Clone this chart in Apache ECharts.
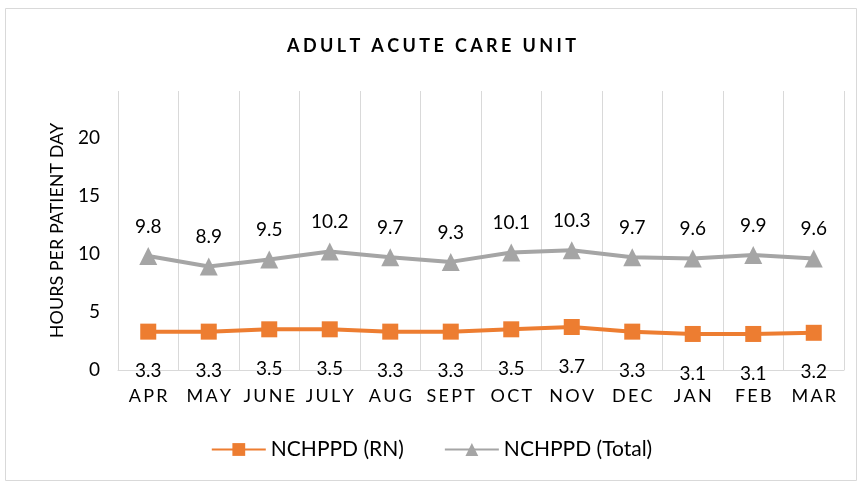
<!DOCTYPE html>
<html>
<head>
<meta charset="utf-8">
<script src="https://cdn.jsdelivr.net/npm/echarts@6/dist/echarts.min.js"></script>
<style>
  html, body { margin: 0; padding: 0; background: #fff; }
  #chart { width: 863px; height: 485px; }
</style>
</head>
<body>
<div id="chart"></div>
<script>
const titleText = 'ADULT ACUTE CARE UNIT'
const months = ['APR', 'MAY', 'JUNE', 'JULY', 'AUG', 'SEPT', 'OCT', 'NOV', 'DEC', 'JAN', 'FEB', 'MAR']
const rnValues = [3.3, 3.3, 3.5, 3.5, 3.3, 3.3, 3.5, 3.7, 3.3, 3.1, 3.1, 3.2]
const totalValues = [9.8, 8.9, 9.5, 10.2, 9.7, 9.3, 10.1, 10.3, 9.7, 9.6, 9.9, 9.6]
const yTicks = [0, 5, 10, 15, 20]

// spread letters a bit, like the spaced-out caps in the original
const spaced = (s, gap) => s.split('').join(gap)

const font = 'Lato, "Open Sans", sans-serif'

const myChart = echarts.init(document.getElementById('chart'))

const option = {
  animation: false,
  textStyle: { fontFamily: font },
  graphic: [{
    type: 'rect',
    shape: { x: 5.5, y: 8.5, width: 851, height: 472 },
    style: { fill: 'none', stroke: '#d9d9d9', lineWidth: 1 },
    silent: true
  }],
  title: {
    text: spaced(titleText, '\u2009\u200A'),
    left: 'center',
    top: 32,
    textStyle: { fontFamily: font, fontSize: 18, fontWeight: 'bold', color: '#000' }
  },
  legend: {
    bottom: 20,
    left: 'center',
    itemWidth: 54,
    itemHeight: 16,
    itemGap: 40,
    textStyle: { fontFamily: font, fontSize: 21, color: '#000' },
    data: ['NCHPPD (RN)', 'NCHPPD (Total)']
  },
  grid: { left: 118, right: 19, top: 91, bottom: 115 },
  xAxis: {
    type: 'category',
    data: months,
    axisLine: { lineStyle: { color: '#d9d9d9', width: 1 } },
    axisTick: { show: false },
    splitLine: { show: true, interval: 0, lineStyle: { color: '#d9d9d9', width: 1 } },
    axisLabel: {
      interval: 0,
      color: '#000',
      fontSize: 18,
      margin: 17,
      fontFamily: font,
      formatter: (v) => spaced(v, '\u2009')
    }
  },
  yAxis: {
    type: 'value',
    min: 0,
    max: 24,
    interval: 5,
    name: 'HOURS PER PATIENT DAY',
    nameLocation: 'middle',
    nameGap: 52,
    nameTextStyle: { color: '#000', fontSize: 18, fontFamily: font },
    axisLine: { show: false },
    axisTick: { show: false },
    splitLine: { show: false },
    axisLabel: {
      color: '#000',
      fontSize: 19,
      margin: 18,
      showMaxLabel: false,
      formatter: (v) => yTicks.includes(v) ? String(v) : ''
    }
  },
  series: [
    {
      name: 'NCHPPD (RN)',
      type: 'line',
      data: rnValues,
      color: '#ED7D31',
      symbol: 'rect',
      symbolSize: 16,
      lineStyle: { color: '#ED7D31', width: 4 },
      itemStyle: { color: '#ED7D31' },
      label: {
        show: true,
        position: 'bottom',
        distance: 22,
        color: '#000',
        fontSize: 19,
        fontFamily: font,
        formatter: (p) => p.value.toFixed(1)
      }
    },
    {
      name: 'NCHPPD (Total)',
      type: 'line',
      data: totalValues,
      color: '#A5A5A5',
      symbol: 'triangle',
      symbolSize: 18,
      lineStyle: { color: '#A5A5A5', width: 4 },
      itemStyle: { color: '#A5A5A5' },
      label: {
        show: true,
        position: 'top',
        distance: 11,
        color: '#000',
        fontSize: 19,
        fontFamily: font,
        formatter: (p) => p.value.toFixed(1)
      }
    }
  ]
}

myChart.setOption(option)
</script>
</body>
</html>
